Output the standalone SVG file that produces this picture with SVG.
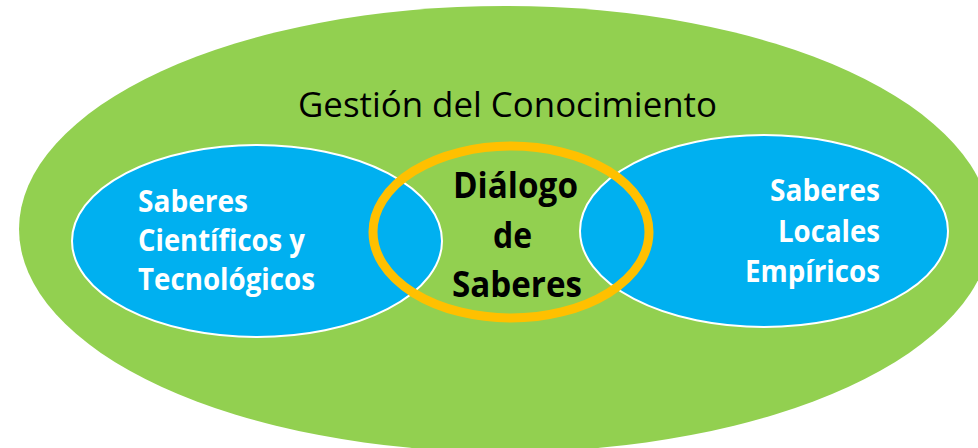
<svg xmlns="http://www.w3.org/2000/svg" width="978" height="448" viewBox="0 0 978 448">
  <style>
    .bg { fill: #ffffff; }
    .outer { fill: #92D050; }
    .blue { fill: #00B0F0; stroke: #ffffff; stroke-width: 2; }
    .ring { fill: none; stroke: #FFC000; stroke-width: 9; }
    .title { font-family: "Open Sans", "Noto Sans", sans-serif; font-size: 35px; fill: #000000; }
    .wtxt { font-family: "Open Sans", "Noto Sans", sans-serif; font-weight: bold; font-size: 30px; fill: #ffffff; }
    .ctxt { font-family: "Open Sans", "Noto Sans", sans-serif; font-weight: bold; font-size: 35px; fill: #000000; }
  </style>
  <rect class="bg" x="0" y="0" width="978" height="448"/>
  <g id="gestion">
    <ellipse class="outer" cx="505" cy="229" rx="486" ry="223"/>
    <text class="title" x="298" y="117" textLength="419" lengthAdjust="spacingAndGlyphs">Gestión del Conocimiento</text>
  </g>
  <g id="saberes-cientificos">
    <ellipse class="blue" cx="257" cy="241" rx="185" ry="96"/>
    <text class="wtxt" x="138" y="212" textLength="110" lengthAdjust="spacingAndGlyphs">Saberes</text>
    <text class="wtxt" x="138" y="251" textLength="167" lengthAdjust="spacingAndGlyphs">Científicos y</text>
    <text class="wtxt" x="138" y="290" textLength="177" lengthAdjust="spacingAndGlyphs">Tecnológicos</text>
  </g>
  <g id="saberes-locales">
    <ellipse class="blue" cx="764" cy="231" rx="184" ry="96"/>
    <text class="wtxt" x="770" y="201" textLength="110" lengthAdjust="spacingAndGlyphs">Saberes</text>
    <text class="wtxt" x="778" y="242" textLength="102" lengthAdjust="spacingAndGlyphs">Locales</text>
    <text class="wtxt" x="745" y="282" textLength="135" lengthAdjust="spacingAndGlyphs">Empíricos</text>
  </g>
  <g id="dialogo">
    <ellipse class="ring" cx="511" cy="232" rx="138" ry="86"/>
    <text class="ctxt" x="453" y="198" textLength="125" lengthAdjust="spacingAndGlyphs">Diálogo</text>
    <text class="ctxt" x="493" y="248" textLength="39" lengthAdjust="spacingAndGlyphs">de</text>
    <text class="ctxt" x="452" y="297" textLength="130" lengthAdjust="spacingAndGlyphs">Saberes</text>
  </g>
  <g id="connectors"></g>
</svg>
